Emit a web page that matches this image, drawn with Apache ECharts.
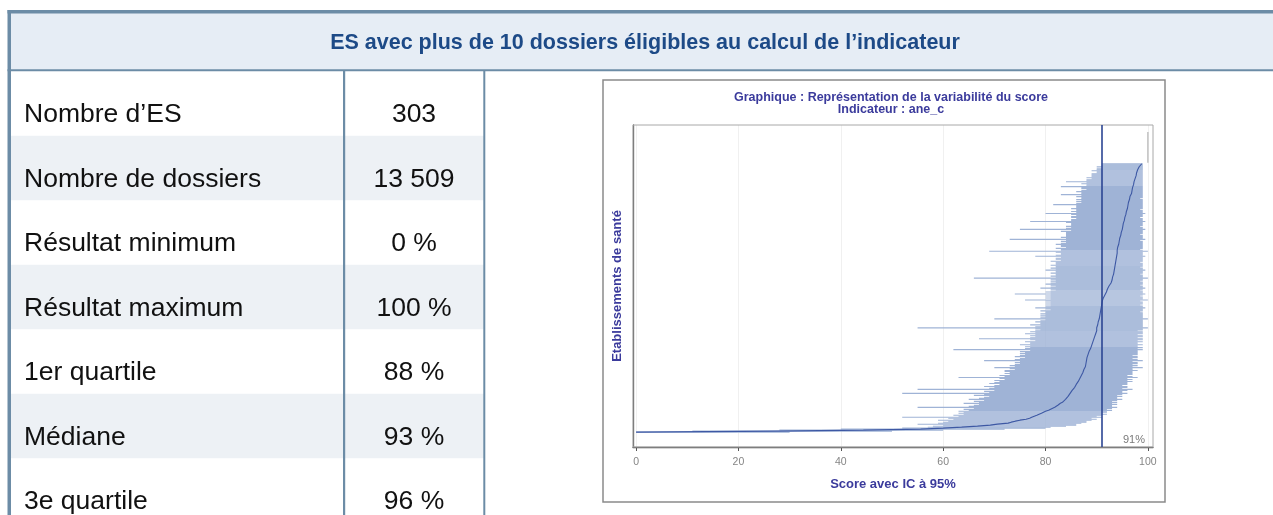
<!DOCTYPE html>
<html><head><meta charset="utf-8">
<script src="https://cdn.jsdelivr.net/npm/echarts@6/dist/echarts.min.js"></script>
<style>html,body{margin:0;padding:0;background:#fff}#c{width:1273px;height:515px}</style>
</head><body><div id="c"></div>
<script>
const headerTitle = 'ES avec plus de 10 dossiers éligibles au calcul de l’indicateur';
const rowLabels = ['Nombre d’ES', 'Nombre de dossiers', 'Résultat minimum', 'Résultat maximum', '1er quartile', 'Médiane', '3e quartile'];
const rowValues = ['303', '13 509', '0 %', '100 %', '88 %', '93 %', '96 %'];
const chartTitle = ['Graphique : Représentation de la variabilité du score', 'Indicateur : ane_c'];
const xAxisName = 'Score avec IC à 95%';
const yAxisName = 'Etablissements de santé';
const xTicks = [0, 20, 40, 60, 80, 100];
const refValue = 91;
const refLabel = '91%';

// établissements triés par score (bas -> haut)
const scores = [
  0, 27.3, 44.4, 55.6, 60, 63.6, 66.7, 69.2, 70.6, 72.7,
  73.3, 74.1, 75, 76.2, 76.9, 77.3, 77.8, 78.3, 78.6, 79.2,
  79.5, 80, 80.6, 81, 81.3, 81.8, 82.1, 82.4, 82.6, 82.9,
  83.3, 83.3, 83.6, 83.9, 84, 84.2, 84.4, 84.6, 84.6, 84.8,
  85, 85, 85.2, 85.3, 85.5, 85.7, 85.7, 85.9, 86, 86.1,
  86.2, 86.4, 86.5, 86.7, 86.7, 86.8, 86.9, 87, 87.1, 87.2,
  87.3, 87.3, 87.5, 87.5, 87.6, 87.7, 87.8, 87.9, 87.9, 87.9,
  87.9, 88, 88, 88, 88, 88.1, 88.2, 88.2, 88.3, 88.4,
  88.5, 88.5, 88.6, 88.7, 88.8, 88.9, 88.9, 89, 89, 89.1,
  89.2, 89.2, 89.3, 89.4, 89.5, 89.5, 89.6, 89.7, 89.7, 89.8,
  89.8, 89.9, 90, 90, 90, 90, 90.1, 90.2, 90.2, 90.3,
  90.3, 90.3, 90.4, 90.4, 90.5, 90.5, 90.5, 90.6, 90.6, 90.7,
  90.7, 90.7, 90.8, 90.8, 90.8, 90.9, 90.9, 90.9, 91, 91,
  91, 91, 91.1, 91.2, 91.3, 91.3, 91.4, 91.5, 91.6, 91.7,
  91.8, 91.9, 92, 92, 92.1, 92.2, 92.3, 92.4, 92.5, 92.6,
  92.8, 92.9, 93, 93, 93, 93.1, 93.1, 93.2, 93.2, 93.3,
  93.3, 93.3, 93.4, 93.4, 93.4, 93.5, 93.5, 93.5, 93.6, 93.6,
  93.6, 93.7, 93.7, 93.7, 93.8, 93.8, 93.8, 93.9, 93.9, 93.9,
  94, 94, 94, 94, 94.1, 94.1, 94.1, 94.2, 94.2, 94.3,
  94.3, 94.3, 94.4, 94.4, 94.5, 94.5, 94.6, 94.6, 94.7, 94.7,
  94.8, 94.8, 94.9, 94.9, 95, 95, 95, 95.1, 95.1, 95.2,
  95.2, 95.3, 95.3, 95.4, 95.4, 95.5, 95.5, 95.6, 95.6, 95.7,
  95.7, 95.8, 95.8, 95.9, 95.9, 96, 96, 96, 96.1, 96.1,
  96.2, 96.2, 96.3, 96.3, 96.4, 96.4, 96.5, 96.5, 96.6, 96.7,
  96.8, 96.8, 96.9, 96.9, 97, 97, 97, 97.1, 97.1, 97.2,
  97.2, 97.3, 97.3, 97.4, 97.4, 97.5, 97.5, 97.6, 97.7, 97.7,
  97.8, 97.8, 97.9, 98, 98, 98.1, 98.2, 98.3, 98.4, 98.6,
  98.8,
  100, 100, 100, 100, 100, 100, 100, 100, 100, 100,
  100, 100, 100, 100, 100, 100, 100, 100, 100, 100,
  100, 100, 100, 100, 100, 100, 100, 100, 100, 100,
  100, 100
];
const lower = [
  0, 11, 28, 40, 52, 57, 58, 60, 55, 59,
  60, 61, 59, 62, 61, 52, 63, 62, 64, 63,
  64, 63, 65, 64, 66, 55, 65, 66, 67, 64,
  67, 66, 68, 65, 67, 68, 69, 66, 68, 52,
  69, 68, 70, 55, 69, 70, 68, 70, 71, 69,
  70, 71, 70, 72, 71, 63, 72, 71, 73, 72,
  73, 72, 72, 74, 73, 70, 74, 73, 74, 75,
  74, 75, 68, 74, 75, 76, 74, 75, 76, 75,
  76, 75, 77, 62, 76, 77, 76, 77, 75, 77,
  77, 76, 78, 77, 67, 77, 78, 77, 78, 76,
  78, 77, 78, 79, 78, 55, 78, 79, 77, 79,
  79, 78, 79, 80, 70, 79, 80, 79, 80, 79,
  80, 80, 79, 81, 80, 78, 80, 81, 80, 81,
  80, 81, 80, 76, 81, 80, 81, 80, 81, 74,
  81, 80, 81, 82, 81, 79, 81, 82, 81, 80,
  81, 82, 81, 82, 81, 66, 82, 81, 82, 82,
  81, 82, 82, 80, 82, 81, 82, 82, 81, 82,
  82, 82, 81, 83, 82, 82, 83, 78, 82, 83,
  83, 82, 69, 83, 83, 82, 84, 83, 83, 82,
  83, 84, 83, 84, 73, 84, 83, 84, 84, 84,
  84, 84, 83, 85, 75, 84, 85, 84, 85, 85,
  85, 84, 77, 85, 85, 86, 85, 85, 86, 85,
  80, 86, 85, 86, 86, 85, 86, 86, 86, 81.5,
  86, 87, 86, 87, 86, 87, 87, 86, 87, 83,
  87, 87, 86, 87, 88, 87, 87, 83, 88, 88,
  87, 88, 84, 88, 88, 89, 88, 89, 89, 89,
  89, 90, 90, 89, 90, 90, 91, 90, 91, 91,
  91,
  100, 100, 100, 100, 100, 100, 100, 100, 100, 100,
  100, 100, 100, 100, 100, 100, 100, 100, 100, 100,
  100, 100, 100, 100, 100, 100, 100, 100, 100, 100,
  100, 100
];
const upper = [
  30, 50, 60, 72, 80, 81, 84, 86, 86, 87,
  88, 88, 89, 90, 89, 91, 90, 91, 92, 91,
  92, 92, 93, 92, 93, 94, 93, 93, 94, 93,
  94, 93, 94, 95, 94, 94, 95, 94, 95, 96,
  95, 95, 96, 97, 95, 96, 96, 95, 96, 96,
  96, 97, 96, 97, 96, 98, 97, 96, 97, 97,
  97, 97, 98, 97, 97, 99, 97, 98, 97, 98,
  98, 97, 99, 98, 97, 98, 98, 97, 98, 98,
  98, 98, 98, 99, 98, 99, 98, 98, 99, 98,
  98, 99, 98, 99, 99, 98, 99, 99, 98, 99,
  99, 99, 98, 99, 99, 100, 99, 99, 99, 99,
  99, 99, 99, 99, 100, 99, 99, 99, 99, 99,
  99, 98.5, 99, 99, 99, 99.5, 99, 99, 98.5, 99,
  99, 99, 98.5, 100, 99, 99, 99, 98.5, 99, 99.5,
  99, 99, 99, 98.5, 99, 99.5, 99, 99, 98.5, 99,
  99, 99, 98.5, 99, 99, 100, 99, 99, 99, 98.5,
  99, 99, 99, 99.5, 99, 99, 98.5, 99, 99, 99,
  99, 98.5, 99, 99, 99, 99, 99, 99.5, 99, 99,
  99, 99, 100, 99, 98.5, 99, 99, 99, 99, 99,
  99, 99, 99, 98.5, 99.5, 99, 99, 99, 99, 98.5,
  99, 99, 99, 99, 99.5, 99, 99, 98.5, 99, 99,
  99, 99, 99.5, 99, 99, 99, 98.5, 99, 99, 99,
  99.5, 99, 99, 99, 98.5, 99, 99, 99, 99, 99,
  99, 99, 99, 99, 99, 98.5, 99, 99, 99, 99,
  99, 99, 99, 99, 99, 99, 99, 99, 99, 99,
  99, 99, 99, 99, 99, 99, 99, 99, 99, 99,
  99, 99, 99, 99, 99, 99, 99, 99, 99, 99,
  99,
  100, 100, 100, 100, 100, 100, 100, 100, 100, 100,
  100, 100, 100, 100, 100, 100, 100, 100, 100, 100,
  100, 100, 100, 100, 100, 100, 100, 100, 100, 100,
  100, 100
];

const FONT = '"Liberation Sans", Arial, sans-serif';
const BORDER = '#6c8ca6';
const TITLE_BLUE = '#3b3b9c';

const graphics = [];
// header band
graphics.push({ type: 'rect', shape: { x: 9, y: 12, width: 1264, height: 58 }, style: { fill: '#e6edf5' }, z: 0 });
graphics.push({ type: 'rect', shape: { x: 7.5, y: 10, width: 1266, height: 3.5 }, style: { fill: BORDER }, z: 1 });
graphics.push({ type: 'rect', shape: { x: 7.5, y: 69.3, width: 1266, height: 2 }, style: { fill: BORDER }, z: 1 });
graphics.push({ type: 'rect', shape: { x: 7.5, y: 10, width: 3.5, height: 505 }, style: { fill: BORDER }, z: 1 });
graphics.push({ type: 'text', style: { text: headerTitle, x: 645, y: 43, font: 'bold 21.5px ' + FONT, fill: '#1d4a87', textAlign: 'center', align: 'center', textVerticalAlign: 'middle', verticalAlign: 'middle' }, z: 2 });
// table rows
const ROW_TOP = 71.3, ROW_H = 64.5;
rowLabels.forEach((lab, k) => {
  if (k % 2 === 1) {
    graphics.push({ type: 'rect', shape: { x: 11, y: ROW_TOP + k * ROW_H, width: 473, height: ROW_H }, style: { fill: '#edf1f5' }, z: 0 });
  }
  graphics.push({ type: 'text', style: { text: lab, x: 24, y: 115 + k * ROW_H, font: '26.5px ' + FONT, fill: '#111', textAlign: 'left', align: 'left', textVerticalAlign: 'middle', verticalAlign: 'middle' }, z: 2 });
  graphics.push({ type: 'text', style: { text: rowValues[k], x: 414, y: 115 + k * ROW_H, font: '26.5px ' + FONT, fill: '#111', textAlign: 'center', align: 'center', textVerticalAlign: 'middle', verticalAlign: 'middle' }, z: 2 });
});
graphics.push({ type: 'rect', shape: { x: 343, y: 71, width: 2.2, height: 444 }, style: { fill: BORDER }, z: 1 });
graphics.push({ type: 'rect', shape: { x: 483.3, y: 71, width: 2, height: 444 }, style: { fill: BORDER }, z: 1 });
// embedded chart frame
graphics.push({ type: 'rect', shape: { x: 603, y: 80, width: 562, height: 422 }, style: { fill: '#fff', stroke: '#8a8a8a', lineWidth: 1.5 }, z: 0 });
graphics.push({ type: 'text', style: { text: chartTitle[0], x: 891, y: 97.5, font: 'bold 12.5px ' + FONT, fill: TITLE_BLUE, textAlign: 'center', align: 'center', textVerticalAlign: 'middle', verticalAlign: 'middle' }, z: 2 });
graphics.push({ type: 'text', style: { text: chartTitle[1], x: 891, y: 109.5, font: 'bold 12.5px ' + FONT, fill: TITLE_BLUE, textAlign: 'center', align: 'center', textVerticalAlign: 'middle', verticalAlign: 'middle' }, z: 2 });
graphics.push({ type: 'text', style: { text: refLabel, x: 1145, y: 440, font: '11px ' + FONT, fill: '#7a7a7a', textAlign: 'right', align: 'right', textVerticalAlign: 'middle', verticalAlign: 'middle' }, z: 5 });

const ciData = scores.map((s, i) => [i, lower[i], upper[i]]);
// courbe des scores : en bleu foncé sous 100 %, en gris pour les ES à 100 %
const lineDark = [], lineGray = [];
scores.forEach((s, i) => { if (s < 100) lineDark.push([s, i]); else lineGray.push([s, i]); });

const chart = echarts.init(document.getElementById('c'), null, { renderer: 'canvas' });
chart.setOption({
  animation: false,
  backgroundColor: '#fff',
  textStyle: { fontFamily: FONT },
  graphic: { elements: graphics },
  grid: { left: 633, top: 125, width: 520, height: 322, show: true, borderColor: '#a8a8a8', borderWidth: 1, backgroundColor: 'transparent', z: 1 },
  xAxis: {
    type: 'value', min: -0.6, max: 101,
    axisLine: { show: true, onZero: false, lineStyle: { color: '#555', width: 1.3 } },
    axisTick: { show: true, customValues: xTicks, length: 4, lineStyle: { color: '#555' } },
    axisLabel: { customValues: xTicks, color: '#858585', fontSize: 10.5, margin: 10, fontFamily: FONT },
    splitLine: { show: true, lineStyle: { color: '#f0f0f0', width: 1 } },
    name: xAxisName, nameLocation: 'middle', nameGap: 31,
    nameTextStyle: { color: TITLE_BLUE, fontWeight: 'bold', fontSize: 13, fontFamily: FONT }
  },
  yAxis: {
    type: 'value', min: -15, max: 309,
    axisLine: { show: true, onZero: false, lineStyle: { color: '#555', width: 1.3 } },
    axisTick: { show: false }, axisLabel: { show: false }, splitLine: { show: false },
    name: yAxisName, nameLocation: 'middle', nameGap: 9, nameRotate: 90,
    nameTextStyle: { color: TITLE_BLUE, fontWeight: 'bold', fontSize: 13, fontFamily: FONT }
  },
  series: [
    {
      type: 'custom', z: 2,
      data: ciData,
      encode: { x: [1, 2], y: 0 },
      renderItem: function (params, api) {
        const i = api.value(0), lo = api.value(1), hi = api.value(2);
        const p1 = api.coord([lo, i]);
        const p2 = api.coord([hi, i]);
        const h = api.size([0, 1])[1];
        return {
          type: 'rect',
          shape: { x: p1[0], y: p1[1] - h / 2, width: Math.max(p2[0] - p1[0], 0), height: h + 0.15 },
          style: { fill: '#9fb3d6' }
        };
      }
    },
    {
      type: 'line', z: 3,
      data: lineDark,
      showSymbol: false, symbol: 'none',
      lineStyle: { width: 1.1, color: '#3d58a4' },
      markLine: {
        silent: true, symbol: 'none', animation: false,
        data: [{ xAxis: refValue }],
        lineStyle: { color: '#2b4593', width: 1.6, type: 'solid' },
        label: { show: false }
      }
    },
    {
      type: 'line', z: 3,
      data: lineGray,
      showSymbol: false, symbol: 'none',
      lineStyle: { width: 1.2, color: '#b4b4b4' }
    }
  ]
});
</script>
</body></html>
